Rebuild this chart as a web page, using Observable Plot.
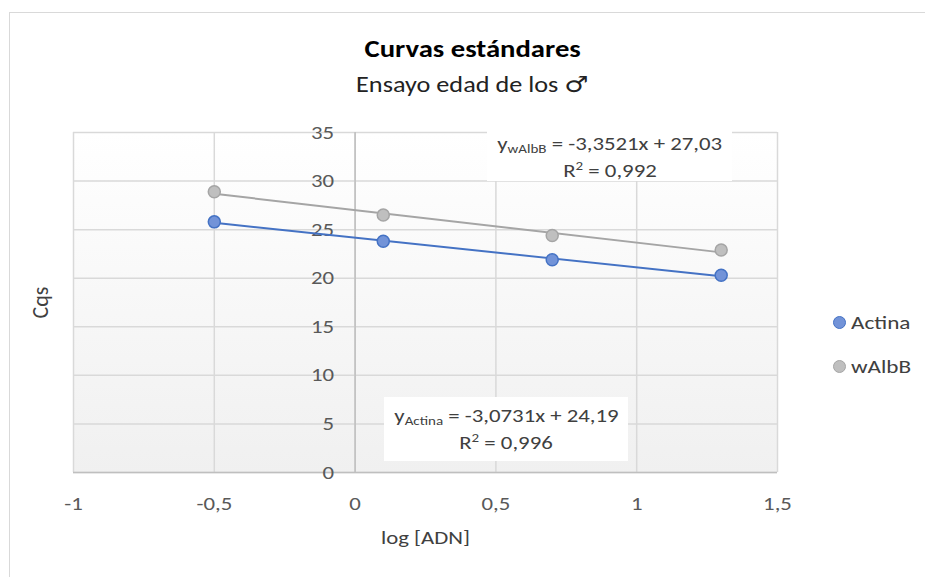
<!DOCTYPE html>
<html><head><meta charset="utf-8">
<script src="https://cdn.jsdelivr.net/npm/d3@7"></script>
<script src="https://cdn.jsdelivr.net/npm/@observablehq/plot@0.6"></script>
<style>
body{margin:0;width:925px;height:577px;overflow:hidden;background:#fff;position:relative;font-family:Carlito,"Liberation Sans Narrow","Open Sans",sans-serif}
#frame{position:absolute;left:9px;top:12px;width:1000px;height:1000px;border:1px solid #d9d9d9}
#chart{position:absolute;left:0;top:0}
.title{position:absolute;left:0;width:945px;text-align:center;color:#000;line-height:1}
.title span.s{display:inline-block;transform:scaleX(1.22);transform-origin:center}
#t1{top:38px;font-size:23.5px;font-weight:bold}
#t2{top:74px;font-size:21.5px;color:#222}
#t2 .sym{font-family:"DejaVu Sans",sans-serif;font-size:22px;font-weight:bold}
.eq{position:absolute;background:#fff;text-align:center;color:#404040;font-size:19px;line-height:27px}
.eq span.s{display:inline-block;transform:scaleX(1.2);transform-origin:center;white-space:nowrap}
.eq sub{font-size:12.5px;vertical-align:-3px;line-height:0}
.eq sup{font-size:12.5px;vertical-align:7px;line-height:0}
.leg{position:absolute;left:833px;font-size:19px;color:#404040;display:flex;align-items:center;line-height:1}
.leg span.m{display:inline-block;width:11px;height:11px;border-radius:50%;margin-right:5px;border:1.5px solid}
.leg span.t{display:inline-block;transform:scaleX(1.22);transform-origin:left}
</style></head><body>
<div id="frame"></div>
<div id="chart"></div>
<div class="title" id="t1"><span class="s">Curvas estándares</span></div>
<div class="title" id="t2"><span class="s">Ensayo edad de los <span class="sym">♂</span></span></div>
<div class="eq" style="left:487px;top:130px;width:245px;height:51px;padding-top:0px;box-sizing:border-box"><span class="s">y<sub>wAlbB</sub> = -3,3521x + 27,03</span><br><span class="s">R<sup>2</sup> = 0,992</span></div>
<div class="eq" style="left:384px;top:397px;width:244px;height:64px;padding-top:5px;box-sizing:border-box"><span class="s">y<sub>Actina</sub> = -3,0731x + 24,19</span><br><span class="s">R<sup>2</sup> = 0,996</span></div>
<div class="leg" style="top:313px"><span class="m" style="background:#7293d8;border-color:#4472c4"></span><span class="t">Actina</span></div>
<div class="leg" style="top:357px"><span class="m" style="background:#bfbfbf;border-color:#a5a5a5"></span><span class="t">wAlbB</span></div>
<script>
const logADN = [-0.5, 0.1, 0.7, 1.3];
const actina = [25.8, 23.8, 21.9, 20.3];
const walbb = [28.9, 26.5, 24.4, 22.9];
const seriesNames = ["Actina", "wAlbB"];
const xTicks = [-1, -0.5, 0, 0.5, 1, 1.5];
const yTicks = [0, 5, 10, 15, 20, 25, 30, 35];
const xLabel = "log [ADN]";
const yLabel = "Cqs";

const lineColors = {Actina: "#4472c4", wAlbB: "#a5a5a5"};
const fillColors = {Actina: "#7293d8", wAlbB: "#bfbfbf"};

const data = [];
logADN.forEach((x, i) => data.push({x, y: actina[i], s: seriesNames[0]}));
logADN.forEach((x, i) => data.push({x, y: walbb[i], s: seriesNames[1]}));

const fmt = d => String(d).replace(".", ",");
const font = 'Carlito, "Liberation Sans Narrow", "Open Sans", sans-serif';

const marks = [
  Plot.frame({fill: "#f7f7f7", stroke: "none"}),
  Plot.gridY(yTicks, {stroke: "#d9d9d9", strokeOpacity: 1, strokeWidth: 1.5}),
  Plot.gridX(xTicks, {stroke: "#d9d9d9", strokeOpacity: 1, strokeWidth: 1.5}),
  Plot.ruleX([0], {stroke: "#bfbfbf", strokeWidth: 1.5}),
  Plot.ruleY([0], {stroke: "#bfbfbf", strokeWidth: 1.5}),
  Plot.text(yTicks, {x: 0, y: d => d, text: fmt, textAnchor: "end", dx: -21, fill: "#595959", fontSize: 19}),
  Plot.axisX(xTicks, {tickSize: 0, tickPadding: 24, tickFormat: fmt, fill: "#595959", fontSize: 19, label: null}),
  Plot.text([xLabel], {frameAnchor: "bottom", dy: 71, fill: "#404040", fontSize: 19}),
  Plot.text([yLabel], {frameAnchor: "left", textAnchor: "middle", dx: -33, rotate: -90, fill: "#404040", fontSize: 22})
];
for (const s of seriesNames) {
  const sub = data.filter(d => d.s === s);
  marks.push(Plot.linearRegressionY(sub, {x: "x", y: "y", ci: 0, stroke: lineColors[s], strokeWidth: 2}));
  marks.push(Plot.dot(sub, {x: "x", y: "y", r: 6, fill: fillColors[s], stroke: lineColors[s], strokeWidth: 1.5}));
}

const chart = Plot.plot({
  width: 925, height: 577,
  marginLeft: 73, marginRight: 148, marginTop: 132, marginBottom: 105,
  x: {domain: [-1, 1.5], axis: null},
  y: {domain: [0, 35], axis: null},
  style: {fontFamily: font, background: "transparent", overflow: "visible"},
  marks
});
const svg = d3.select(chart);
const defs = svg.insert("defs", ":first-child");
const g = defs.append("linearGradient").attr("id", "bg").attr("x1", 0).attr("y1", 0).attr("x2", 0).attr("y2", 1);
g.append("stop").attr("offset", "0%").attr("stop-color", "#ffffff");
g.append("stop").attr("offset", "100%").attr("stop-color", "#f0f0f0");
svg.select('g[aria-label="frame"] rect').attr("fill", "url(#bg)");
svg.select('[aria-label="frame"]').attr("fill", "url(#bg)");
// horizontal stretch of text (about its own anchor) to match the reference's wide glyphs
svg.selectAll("text").each(function() {
  const t = d3.select(this);
  const tr = t.attr("transform") || "";
  if (tr.includes("rotate")) return;
  let x = parseFloat(t.attr("x"));
  if (!isFinite(x)) x = 0;
  t.attr("transform", `${tr} translate(${x},0) scale(1.2,1) translate(${-x},0)`.trim());
});
document.getElementById("chart").appendChild(chart);
</script>
</body></html>
